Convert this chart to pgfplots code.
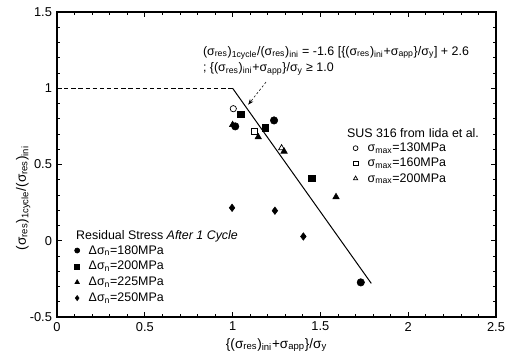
\documentclass[border=0pt]{standalone}
\usepackage{pgfplots}
\pgfplotsset{compat=1.18}
\usepackage{fontspec}
\setmainfont{Liberation Sans}
\usetikzlibrary{arrows.meta}
\newcommand{\sbs}[1]{\textsubscript{#1}}
\pgfplotsset{
  mylegimg/.style={legend image code/.code={\path (0cm,0cm) (0.3cm,0cm); \draw[##1] plot coordinates {(0.15cm,0cm)};}},
  geom/.style={at={(0,0)}, anchor=south west, scale only axis, width=307.3pt, height=213.5pt,
    xmin=0, xmax=2.5, ymin=-0.5, ymax=1.5, clip=false},
}
\begin{document}
\begin{tikzpicture}
\useasboundingbox (-39.9pt,-30.1pt) rectangle (314.3pt,221.9pt);
\begin{axis}[geom,
  xtick={0,0.5,1,1.5,2,2.5}, ytick={-0.5,0,0.5,1,1.5},
  minor x tick num=4, minor y tick num=4,
  tick align=inside, major tick length=3.5pt, minor tick length=2pt,
  tick style={black, line width=0.5pt},
  axis line style={line width=0.8pt},
  ticklabel style={font=\fontsize{9}{10}\selectfont},
  /pgf/number format/assume math mode=true,
  xlabel={\{(σ\sbs{res})\sbs{ini}+σ\sbs{app}\}/σ\sbs{y}},
  ylabel={(σ\sbs{res})\sbs{1cycle}/(σ\sbs{res})\sbs{ini}},
  label style={font=\fontsize{9.5}{11}\selectfont},
  xlabel style={at={(axis description cs:0.5,-0.092)}, anchor=center},
  ylabel style={at={(axis description cs:-0.077,0.39)}, anchor=center},
  legend style={draw=none, fill=none, inner sep=0pt, at={(axis cs:0.077,-0.02)}, anchor=north west,
    font=\fontsize{8.7}{10}\selectfont, row sep=2.1pt,
    nodes={inner sep=0pt, text height=7pt, text depth=2pt},
    /tikz/every odd column/.append style={column sep=3.6pt}},
  legend cell align=left,
  mylegimg,
  legend image post style={mark size=1.8pt},
]
\addplot[only marks, mark=*, mark size=2.6pt, black] coordinates {(1.015,0.75) (1.236,0.789) (1.73,-0.273)};
\addlegendentry{Δσ\sbs{n}=180MPa}
\addplot[only marks, mark=square*, mark size=2.3pt, black] coordinates {(1.046,0.828) (1.185,0.739) (1.45,0.409)};
\addlegendentry{Δσ\sbs{n}=200MPa}
\addplot[only marks, mark=triangle*, mark size=2.6pt, black] coordinates {(1.0,0.76) (1.146,0.68) (1.293,0.586) (1.589,0.287)};
\addlegendentry{Δσ\sbs{n}=225MPa}
\addplot[only marks, mark=diamond*, mark size=2.6pt, black] coordinates {(0.997,0.216) (1.241,0.197) (1.403,0.028)};
\addlegendentry{Δσ\sbs{n}=250MPa}
\addplot[black, line width=0.6pt, dash pattern=on 3pt off 2pt, forget plot] coordinates {(0,1) (1,1)};
\addplot[black, line width=0.7pt, forget plot] coordinates {(1,1) (1.79,-0.28)};
\draw[black, line width=0.4pt, dash pattern=on 1.5pt off 1.5pt, -{Stealth[length=4pt,width=3pt]}] (axis cs:1.19,1.04) -- (axis cs:1.089,0.892);
\node[anchor=west, inner sep=0pt, font=\fontsize{8.7}{10}\selectfont] at (axis cs:0.83,1.232)
  {(σ\sbs{res})\sbs{1cycle}/(σ\sbs{res})\sbs{ini} = -1.6 [\{(σ\sbs{res})\sbs{ini}+σ\sbs{app}\}/σ\sbs{y}] + 2.6};
\node[anchor=west, inner sep=0pt, font=\fontsize{8.7}{10}\selectfont] at (axis cs:0.83,1.127)
  {; \{(σ\sbs{res})\sbs{ini}+σ\sbs{app}\}/σ\sbs{y} ≥ 1.0};
\node[anchor=west, inner sep=0pt, font=\fontsize{8.7}{10}\selectfont] at (axis cs:0.108,0.027)
  {Residual Stress \textit{After 1 Cycle}};
\node[anchor=west, inner sep=0pt, font=\fontsize{8.7}{10}\selectfont] at (axis cs:1.65,0.703)
  {SUS 316 from Iida et al.};
\end{axis}
\begin{axis}[geom, hide axis,
  legend style={draw=none, fill=none, inner sep=0pt, at={(axis cs:1.662,0.651)}, anchor=north west,
    font=\fontsize{8.7}{10}\selectfont, row sep=1.6pt,
    nodes={inner sep=0pt, text height=7pt, text depth=2pt},
    /tikz/every odd column/.append style={column sep=3.9pt}},
  legend cell align=left,
  mylegimg,
  legend image post style={mark size=1.7pt},
]
\addplot[only marks, mark=o, mark size=2.2pt, black, line width=0.5pt] coordinates {(1.004,0.866)};
\addlegendentry{σ\sbs{max}=130MPa}
\addplot[only marks, mark=square, mark size=2.1pt, black, line width=0.5pt] coordinates {(1.124,0.717)};
\addlegendentry{σ\sbs{max}=160MPa}
\addplot[only marks, mark=triangle, mark size=2.4pt, black, line width=0.5pt] coordinates {(1.279,0.608)};
\addlegendentry{σ\sbs{max}=200MPa}
\end{axis}
\end{tikzpicture}
\end{document}
